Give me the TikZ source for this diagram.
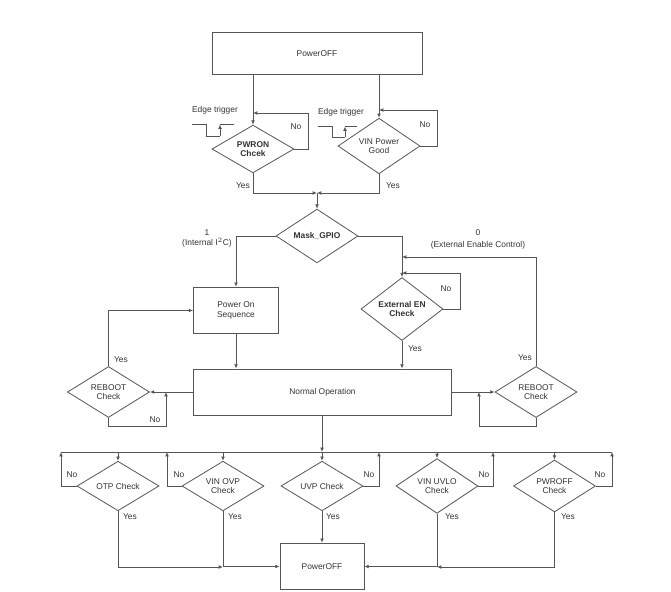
\documentclass[tikz,border=0pt]{standalone}
\usepackage{fontspec}
\setmainfont{Liberation Sans}
\usetikzlibrary{shapes.geometric,arrows.meta}
\definecolor{ln}{HTML}{555555}
\definecolor{tx}{HTML}{333333}
\begin{document}
\begin{tikzpicture}[x=0.75pt,y=-0.75pt,
  every node/.style={font=\fontsize{6.3}{7.2}\selectfont,text=tx},
  box/.style={draw=ln,line width=0.6pt,rectangle,inner sep=0pt,align=center},
  dia/.style={draw=ln,line width=0.6pt,diamond,inner sep=0pt,align=center,minimum width=61.5pt,minimum height=34.5pt},
  lbl/.style={inner sep=0pt,align=center},
  wire/.style={draw=ln,line width=0.6pt},
  arr/.style={wire,-{Latex[length=3.2pt,width=2.8pt]}}]
\useasboundingbox (0,0) rectangle (671,592);
% nodes
\node[box,minimum width=157.5pt,minimum height=32pt] (top) at (317,53.5) {PowerOFF};
\node[dia,font=\bfseries\fontsize{6.3}{7.2}\selectfont] (pwron) at (253,149) {PWRON\\Chcek};
\node[dia] (vin) at (379,146) {VIN Power\\Good};
\node[dia,font=\bfseries\fontsize{6.3}{7.2}\selectfont] (mask) at (317,236) {Mask\_GPIO};
\node[box,minimum width=63.75pt,minimum height=35pt] (pos) at (236,310.5) {Power On\\Sequence};
\node[dia,font=\bfseries\fontsize{6.3}{7.2}\selectfont] (exten) at (402,309) {External EN\\Check};
\node[box,minimum width=194pt,minimum height=34.5pt] (normal) at (322.5,392) {Normal Operation};
\node[dia] (rebl) at (108.5,392) {REBOOT\\Check};
\node[dia] (rebr) at (536,392) {REBOOT\\Check};
\node[dia] (otp) at (118,486) {OTP Check};
\node[dia] (ovp) at (223,486) {VIN OVP\\Check};
\node[dia] (uvp) at (322,486) {UVP Check};
\node[dia] (uvlo) at (437,486) {VIN UVLO\\Check};
\node[dia] (pwroff) at (554.5,486) {PWROFF\\Check};
\node[box,minimum width=63pt,minimum height=35pt] (bot) at (322,566.5) {PowerOFF};
% helper coordinates
\coordinate (mrg) at (317,193);
\coordinate (pwj) at (253,113);
\coordinate (pwc) at (308,149);
\coordinate (vij) at (379,110);
\coordinate (vic) at (437,146);
\coordinate (exj) at (402,273);
\coordinate (exc) at (460,309);
\coordinate (rbj) at (402,257);
\coordinate (rrb) at (536,426);
\coordinate (rrj) at (479,392);
\coordinate (rlb) at (108.5,426);
\coordinate (rlj) at (166,392);
\coordinate (bus) at (322,452);
\coordinate (busL) at (61,452);
\coordinate (busR) at (612,452);
\coordinate (jl) at (223,567);
\coordinate (jr) at (437,567);
% top part
\draw[arr] (top.south -| pwron) -- (pwron.north);
\draw[arr] (top.south -| vin) -- (vin.north);
\draw[arr] (pwron.east) -- (pwc) |- (pwj);
\draw[arr] (vin.east) -- (vic) |- (vij);
\draw[arr] (pwron.south) |- (mrg);
\draw[arr] (vin.south) |- (mrg);
\draw[arr] (mrg) -- (mask.north);
% edge triggers
\draw[wire] (192,124) -- (206,124) -- (206,136) -- (220,136);
\draw[arr] (220,136) -- (220,124.5);
\draw[wire] (220,124) -- (234,124);
\draw[wire] (318,126) -- (332,126) -- (332,137) -- (345,137);
\draw[arr] (345,137) -- (345,126.5);
\draw[wire] (345,126) -- (357,126);
\node[lbl] (et1) at (215,110) {Edge trigger};
\node[lbl] (et2) at (341,112) {Edge trigger};
\node[lbl] (n1) at (296,127) {No};
\node[lbl] (n2) at (425,125) {No};
\node[lbl] (y1) at (243,186) {Yes};
\node[lbl] (y2) at (393,186) {Yes};
% mask branches
\draw[arr] (mask.west) -| (pos.north);
\draw[arr] (mask.east) -| (exten.north);
\node[lbl] (l1) at (207,233) {1};
\node[lbl] (l1b) at (207,243) {(Internal I$^{2}$C)};
\node[lbl] (l0) at (478,233) {0};
\node[lbl] (l0b) at (478,245) {(External Enable Control)};
% external EN
\draw[arr] (exten.east) -- (exc) |- (exj);
\node[lbl] (n3) at (446,289) {No};
\draw[arr] (exten.south) -- (normal.north -| exten);
\node[lbl] (y3) at (415,349) {Yes};
\draw[arr] (pos.south) -- (normal.north -| pos);
% reboot right
\draw[arr] (normal.east) -- (rebr.west);
\draw[arr] (rebr.south) -- (rrb) -| (rrj);
\draw[arr] (rebr.north) |- (rbj);
\node[lbl] (y4) at (525,358) {Yes};
% reboot left
\draw[arr] (normal.west) -- (rebl.east);
\draw[arr] (rebl.south) -- (rlb) -| (rlj);
\node[lbl] (n4) at (155,420) {No};
\draw[arr] (rebl.north) |- (pos.west);
\node[lbl] (y5) at (121,360) {Yes};
% bus
\draw[arr] (normal.south -| bus) -- (bus);
\draw[wire] (busL) -- (busR);
\foreach \n in {otp,ovp,uvp,uvlo,pwroff}{
  \draw[arr] (bus -| \n) -- (\n.north);
}
\draw[arr] (otp.west) -| (busL);
\draw[arr] (ovp.west) -| (167,452);
\draw[arr] (uvp.east) -| (379,452);
\draw[arr] (uvlo.east) -| (493,452);
\draw[arr] (pwroff.east) -| (busR);
\node[lbl] (n5) at (72,475) {No};
\node[lbl] (n6) at (179,475) {No};
\node[lbl] (n7) at (369,475) {No};
\node[lbl] (n8) at (484,475) {No};
\node[lbl] (n9) at (600,475) {No};
% yes paths
\draw[arr] (otp.south) |- (jl);
\draw[arr] (ovp.south) |- (bot.west);
\draw[arr] (uvp.south) -- (bot.north);
\draw[arr] (pwroff.south) |- (jr);
\draw[arr] (uvlo.south) |- (bot.east);
\node[lbl] (y6) at (130,517) {Yes};
\node[lbl] (y7) at (235,517) {Yes};
\node[lbl] (y8) at (333,517) {Yes};
\node[lbl] (y9) at (452,517) {Yes};
\node[lbl] (y10) at (568,517) {Yes};
\end{tikzpicture}
\end{document}
